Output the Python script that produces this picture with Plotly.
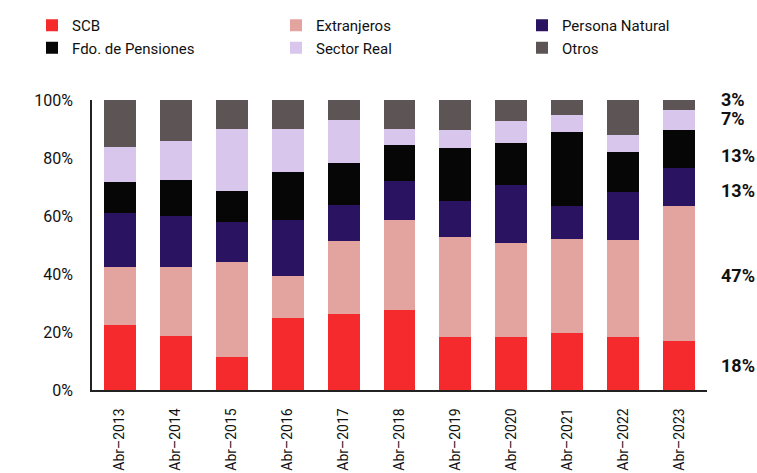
import plotly.graph_objects as go

categories = ["Abr–2013", "Abr–2014", "Abr–2015", "Abr–2016", "Abr–2017", "Abr–2018",
              "Abr–2019", "Abr–2020", "Abr–2021", "Abr–2022", "Abr–2023"]

scb = [22.3, 18.5, 11.3, 24.9, 26.1, 27.5, 18.2, 18.2, 19.6, 18.2, 16.9]
extranjeros = [20.2, 24.0, 32.9, 14.4, 25.3, 31.0, 34.5, 32.4, 32.4, 33.5, 46.6]
persona_natural = [18.7, 17.5, 13.9, 19.4, 12.3, 13.7, 12.5, 20.2, 11.6, 16.5, 13.1]
fdo_pensiones = [10.6, 12.5, 10.6, 16.4, 14.6, 12.4, 18.1, 14.4, 25.4, 13.8, 13.0]
sector_real = [12.0, 13.3, 21.4, 15.0, 14.8, 5.5, 6.3, 7.6, 5.7, 5.8, 6.9]
otros = [16.2, 14.2, 9.9, 9.9, 6.9, 9.9, 10.4, 7.2, 5.3, 12.2, 3.5]

series_names = ["SCB", "Extranjeros", "Persona Natural", "Fdo. de Pensiones", "Sector Real", "Otros"]
series_values = [scb, extranjeros, persona_natural, fdo_pensiones, sector_real, otros]
end_labels = ["18%", "47%", "13%", "13%", "7%", "3%"]

y_tick_vals = [0, 20, 40, 60, 80, 100]
y_tick_text = ["0%", "20%", "40%", "60%", "80%", "100%"]

colors = ["#f42a2c", "#e3a39e", "#2a1462", "#060606", "#d9c6ec", "#5d5555"]
legend_ids = ["legend", "legend2", "legend3", "legend", "legend2", "legend3"]
label_shift = [0, -2, -4, -6, 2, 6]

FONT = "Roboto, Liberation Sans, sans-serif"

fig = go.Figure()
for name, vals, col, lg in zip(series_names, series_values, colors, legend_ids):
    fig.add_trace(go.Bar(
        x=categories, y=vals, name=name, legend=lg,
        marker=dict(color=col, line=dict(width=0)),
    ))

# right-hand labels for last bar
cum = 0
for vals, lab, sh in zip(series_values, end_labels, label_shift):
    v = vals[-1]
    mid = cum + v / 2
    cum += v
    fig.add_annotation(
        xref="paper", yref="y", x=1.0, y=mid, xanchor="left", yanchor="middle",
        xshift=12, yshift=sh, text="<b>%s</b>" % lab, showarrow=False,
        font=dict(family=FONT, size=18, color="#111111"),
    )

W, H = 757, 473
leg_common = dict(orientation="v", traceorder="normal", xref="container", yref="container",
                  yanchor="top", xanchor="left", bgcolor="rgba(0,0,0,0)",
                  font=dict(family=FONT, size=15, color="#111111"),
                  itemwidth=30, tracegroupgap=0)

fig.update_layout(
    width=W, height=H,
    barmode="stack", bargap=0.43,
    paper_bgcolor="white", plot_bgcolor="white",
    margin=dict(l=92, r=50, t=100, b=83, autoexpand=False),
    legend=dict(x=32 / W, y=1 - 9 / H, **leg_common),
    legend2=dict(x=276 / W, y=1 - 9 / H, **leg_common),
    legend3=dict(x=522 / W, y=1 - 9 / H, **leg_common),
    font=dict(family=FONT, size=15, color="#111111"),
    xaxis=dict(
        type="category", tickangle=-90, showline=True, linecolor="#222222", linewidth=1.5,
        ticks="", showgrid=False, tickfont=dict(family=FONT, size=14, color="#111111"),
        ticklabelstandoff=11, automargin=False,
    ),
    yaxis=dict(
        range=[0, 100], tickmode="array", tickvals=y_tick_vals, ticktext=y_tick_text,
        showline=True, linecolor="#222222", linewidth=1.5, showgrid=False,
        zeroline=False, ticks="", tickfont=dict(family=FONT, size=16, color="#111111"),
        ticklabelstandoff=14, automargin=False,
    ),
)

# remove the default page margin so the figure fills the window exactly
fig.write_html("out.html", config={"displayModeBar": False},
               post_script="document.body.style.margin='0';"
               "document.documentElement.style.overflow='hidden';")
